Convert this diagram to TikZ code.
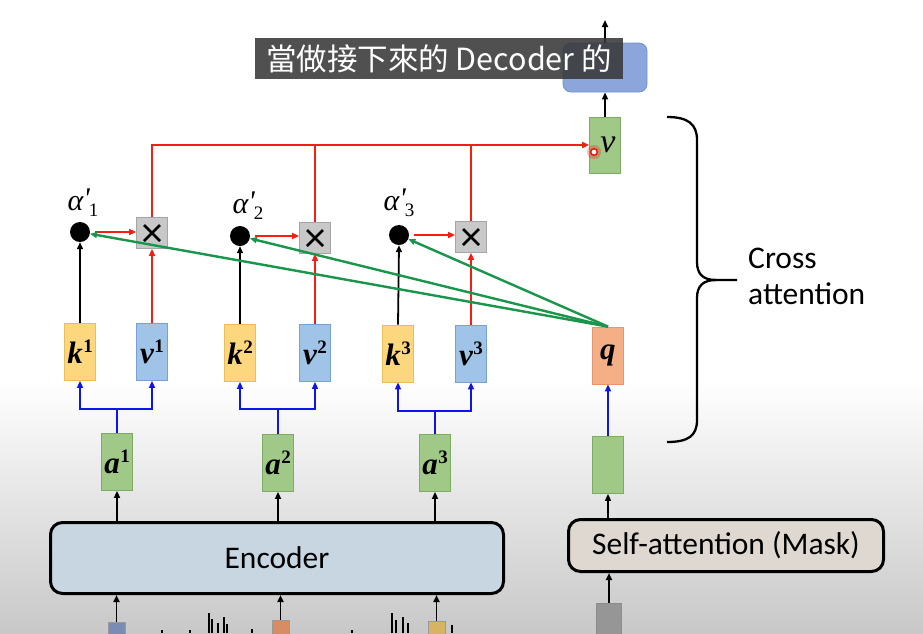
\documentclass[tikz,border=0pt]{standalone}
\usepackage{fontspec}
\setmainfont{Carlito}
\newfontfamily\cjk{Noto Sans CJK TC}
\newfontfamily\lsf{Liberation Serif}
\usetikzlibrary{arrows.meta}
\definecolor{grn}{RGB}{160,200,135}
\definecolor{grnd}{RGB}{125,170,100}
\definecolor{kyel}{RGB}{253,215,125}
\definecolor{kyeld}{RGB}{235,190,90}
\definecolor{vblu}{RGB}{160,195,232}
\definecolor{vblud}{RGB}{120,160,215}
\definecolor{qsal}{RGB}{245,175,135}
\definecolor{qsald}{RGB}{230,150,110}
\definecolor{xgray}{RGB}{200,200,200}
\definecolor{xgrayd}{RGB}{165,165,165}
\definecolor{topb}{RGB}{140,165,218}
\definecolor{topbd}{RGB}{115,145,205}
\definecolor{encb}{RGB}{200,214,226}
\definecolor{sab}{RGB}{222,216,208}
\definecolor{bggray}{RGB}{200,200,200}
\definecolor{redl}{RGB}{245,30,20}
\definecolor{grnl}{RGB}{25,150,75}
\definecolor{blul}{RGB}{15,20,235}
\definecolor{inb}{RGB}{120,140,180}
\definecolor{ino}{RGB}{215,140,100}
\definecolor{iny}{RGB}{215,180,100}
\definecolor{ing}{RGB}{150,150,150}
% bold italic vector with bold superscript
\newcommand{\bvec}[2]{{\lsf\fontsize{31}{32}\selectfont\bfseries\itshape #1\kern0.5pt\raisebox{11pt}{\fontsize{19}{20}\selectfont\upshape #2}}}
% alpha prime with subscript
\newcommand{\alp}[1]{{\lsf\fontsize{30}{32}\selectfont\itshape α\raisebox{2pt}{'}\kern-1pt\raisebox{-6pt}{\fontsize{19}{20}\selectfont\upshape #1}}}
\begin{document}
\begin{tikzpicture}[x=1pt,y=-1pt,
  >={Triangle[length=7pt,width=6pt]},
  box/.style={draw, line width=0.8pt, minimum width=31pt, minimum height=57pt, inner sep=0pt},
  gbox/.style={box, fill=grn, draw=grnd},
  kbox/.style={box, fill=kyel, draw=kyeld},
  vbbox/.style={box, fill=vblu, draw=vblud},
  qbox/.style={box, fill=qsal, draw=qsald},
  dotn/.style={circle, fill=black, minimum size=20pt, inner sep=0pt},
  xbox/.style={draw=xgrayd, fill=xgray, line width=0.8pt, minimum size=31pt, inner sep=0pt,
    path picture={
      \draw[black, line width=2.6pt] ([xshift=-8pt,yshift=-8pt]path picture bounding box.center) -- ([xshift=8pt,yshift=8pt]path picture bounding box.center);
      \draw[black, line width=2.6pt] ([xshift=-8pt,yshift=8pt]path picture bounding box.center) -- ([xshift=8pt,yshift=-8pt]path picture bounding box.center);}},
  blk/.style={line width=1.8pt, black},
  rd/.style={line width=2pt, redl},
  gl/.style={line width=2.4pt, grnl},
  bll/.style={line width=2.8pt, blul},
  bigbox/.style={draw, line width=3pt, rounded corners=12pt, font=\fontsize{31.5}{36}\selectfont},
  inbox/.style={draw=black!40, line width=0.6pt, minimum width=17pt, minimum height=22pt, inner sep=0pt}
]
\useasboundingbox (0,0) rectangle (923,633);
\fill[white] (0,0) rectangle (923,633);
\shade[top color=white, bottom color=bggray] (0,380) rectangle (923,633);

% top output part
\node[draw=topbd, fill=topb, line width=0.8pt, rounded corners=8pt, minimum width=84pt, minimum height=49pt] (tb) at (605,67.5) {};
\coordinate (out) at (605,20);
\node[gbox, minimum height=56pt] (vt) at (605,145) {\hspace*{6pt}{\lsf\fontsize{34}{36}\selectfont\itshape v}};
\draw[blk,->] (vt.north) -- (tb.south);
\draw[blk,->] (tb.north) -- (out);

% subtitle
\node[fill=black!78, fill opacity=0.88, text opacity=1, text=white, minimum width=368pt, minimum height=41pt, inner sep=0pt] (sub) at (439,58.5) {\cjk\fontsize{30.5}{34}\selectfont 當做接下來的 Decoder 的};

% dots and labels
\node[dotn] (d1) at (80,232) {};
\node[dotn] (d2) at (240,236) {};
\node[dotn] (d3) at (399,235) {};
\node (al1) at (83,203) {\alp{1}};
\node (al2) at (248,206) {\alp{2}};
\node (al3) at (399,203) {\alp{3}};

% multiply boxes
\node[xbox] (x1) at (152,233) {};
\node[xbox] (x2) at (315,238) {};
\node[xbox] (x3) at (471,237) {};

% k v q boxes
\node[kbox] (k1) at (80,352) {\bvec{k}{1}};
\node[vbbox] (v1) at (152,352) {\bvec{v}{1}};
\node[kbox] (k2) at (240,353) {\bvec{k}{2}};
\node[vbbox] (v2) at (315,353) {\bvec{v}{2}};
\node[kbox] (k3) at (398,353.5) {\bvec{k}{3}};
\node[vbbox] (v3) at (471,353.5) {\bvec{v}{3}};
\node[qbox] (q) at (608,355.5) {\bvec{q}{}};

% a boxes
\node[gbox] (a1) at (117,462) {\bvec{a}{1}};
\node[gbox] (a2) at (278,463) {\bvec{a}{2}};
\node[gbox] (a3) at (435,463) {\bvec{a}{3}};
\node[gbox] (ga) at (608,465) {};

% big boxes
\node[bigbox, fill=encb, minimum width=453pt, minimum height=71pt] (enc) at (277,558) {Encoder};
\node[bigbox, fill=sab, minimum width=315pt, minimum height=52pt] (sa) at (726,545.5) {Self-attention (Mask)};

% inputs
\node[inbox, fill=inb] (in1) at (116.5,633) {};
\node[inbox, fill=ino] (in2) at (280.5,631) {};
\node[inbox, fill=iny] (in3) at (436.5,632) {};
\node[draw=black!45, fill=ing, line width=0.6pt, minimum width=25pt, minimum height=34pt, inner sep=0pt] (in4) at (609,620) {};

% waveform bits
\foreach \xx/\hh in {209/20,212/14,218/10,224/16,227/9,392/20,396/13,403/16,408/10,452/8,162/3,190/3,252/4,352/3}
  \draw[line width=1.6pt] (\xx,633) -- (\xx,633-\hh);

% black arrows
\draw[blk,->] (in1.north) -- (in1.north |- enc.south);
\draw[blk,->] (in2.north) -- (in2.north |- enc.south);
\draw[blk,->] (in3.north) -- (in3.north |- enc.south);
\draw[blk,->] (in4.north) -- (in4.north |- sa.south);
\draw[blk,->] (a1.south |- enc.north) -- (a1.south);
\draw[blk,->] (a2.south |- enc.north) -- (a2.south);
\draw[blk,->] (a3.south |- enc.north) -- (a3.south);
\draw[blk,->] (ga.south |- sa.north) -- (ga.south);
\draw[blk,->] (k1.north) -- (d1.south);
\draw[blk,->] (k2.north) -- (d2.south);
\draw[blk,->] (k3.north) -- (d3.south);

% blue connectors
\coordinate (j1) at (117,409);
\coordinate (j2) at (278,409);
\coordinate (j3) at (435,411);
\foreach \a/\j/\k/\v in {a1/j1/k1/v1, a2/j2/k2/v2, a3/j3/k3/v3} {
  \draw[bll] (\a.north) -- (\j);
  \draw[bll,->] (\j) -| (\k.south);
  \draw[bll,->] (\j) -| (\v.south);
}
\draw[bll,->] (ga.north) -- (q.south);

% red connectors
\draw[rd,->] (v1.north) -- (x1.south);
\draw[rd,->] (v2.north) -- (x2.south);
\draw[rd,->] (v3.north) -- (x3.south);
\draw[rd,->] ([xshift=5pt]d1.east) -- (d1.east -| x1.west);
\draw[rd,->] ([xshift=5pt]d2.east) -- (d2.east -| x2.west);
\draw[rd,->] ([xshift=5pt]d3.east) -- (d3.east -| x3.west);
\draw[rd,->] (x1.north) |- (vt.west);
\draw[rd] (x2.north) -- (x2.north |- vt.west);
\draw[rd] (x3.north) -- (x3.north |- vt.west);

% green connectors
\draw[gl,->] (q.north) -- (d1);
\draw[gl,->] (q.north) -- (d2);
\draw[gl,->] (q.north) -- (d3);

% laser pointer dot
\fill[red, opacity=0.25] (594,152) circle (7);
\draw[red, line width=1.3pt, fill=white] (594,152) circle (3.3);

% brace
\draw[line width=2.3pt] (667,117) .. controls (688,117) and (697,124) .. (697,140) -- (697,262) .. controls (697,274) and (703,280) .. (716,280) -- (737,280);
\draw[line width=2.3pt] (716,280) .. controls (703,280) and (697,286) .. (697,298) -- (697,420) .. controls (697,436) and (688,442) .. (667,442);
\node[anchor=west, align=left, font=\fontsize{31.5}{36}\selectfont, inner sep=0pt] (ca) at (748,276) {Cross\\attention};
\end{tikzpicture}
\end{document}
